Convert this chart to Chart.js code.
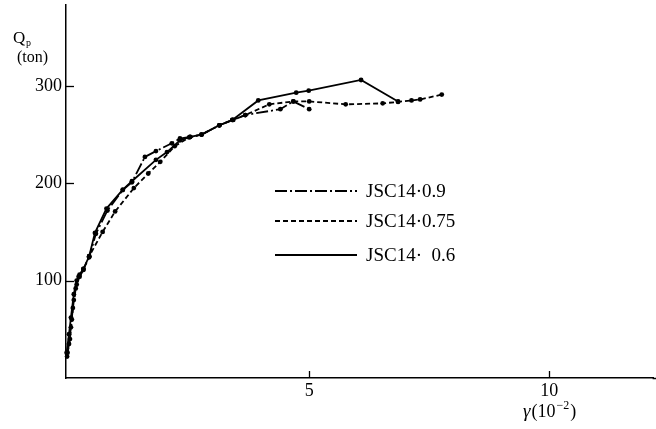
<!DOCTYPE html>
<html>
<head>
<meta charset="utf-8">
<script src="https://cdn.jsdelivr.net/npm/chart.js@4"></script>
<style>
html, body { margin: 0; padding: 0; background: #fff; }
#wrap { width: 656px; height: 429px; position: relative; }
</style>
</head>
<body>
<div id="wrap"><canvas id="chart"></canvas></div>
<script>
// values: shear strain (10^-2) vs. load Qp (ton)
var seriesNames = ['JSC14\u00b70.9', 'JSC14\u00b70.75', 'JSC14\u00b7  0.6'];

var gamma09 = [-0.04, 0.0, 0.04, 0.08, 0.14, 0.20, 0.30, 0.42, 0.56, 0.80, 1.12, 1.31, 1.58, 1.81, 2.14, 2.31, 2.52, 2.76, 3.13, 3.42, 3.67, 4.40, 4.67, 5.00];
var qp09 =    [22, 35, 52, 72, 92, 104, 112, 124, 148, 172, 193, 201, 227, 233, 241, 246, 247.5, 250, 259.5, 265, 270, 276, 284, 276];

var gamma075 = [-0.03, 0.02, 0.06, 0.10, 0.16, 0.22, 0.30, 0.42, 0.70, 0.96, 1.35, 1.65, 1.90, 2.20, 2.50, 2.76, 3.13, 3.40, 3.67, 4.17, 4.67, 5.00, 5.76, 6.53, 6.85, 7.13, 7.31, 7.76];
var qp075 =    [26, 40, 60, 80, 96, 104, 111, 125, 150, 171, 195, 210, 222, 238, 247, 250, 259.5, 265, 270, 281, 284, 284, 281, 282, 283.5, 285, 286, 291];

var gamma06 = [-0.05, 0.0, 0.04, 0.10, 0.16, 0.22, 0.30, 0.42, 0.54, 0.78, 1.12, 1.31, 1.81, 2.04, 2.31, 2.52, 2.76, 3.13, 3.40, 3.94, 4.73, 4.99, 6.08, 6.85];
var qp06 =    [26, 45, 62, 86, 100, 106, 112, 125, 149, 174, 193.5, 202, 224, 232, 244, 247.5, 250, 259.5, 265, 285, 293, 295, 306, 284];

var xTicks = [5, 10];
var yTicks = [100, 200, 300];

var dashes = [[12, 3, 2, 3], [5, 3], []];

function toPoints(xs, ys) {
    var pts = [];
    for (var i = 0; i < xs.length; i++) {
        pts.push({x: xs[i], y: ys[i]});
    }
    return pts;
}

function makeDataset(i, xs, ys) {
    return {
        label: seriesNames[i],
        data: toPoints(xs, ys),
        borderColor: '#000',
        backgroundColor: '#000',
        borderWidth: 1.8,
        borderDash: dashes[i],
        pointRadius: 2.4,
        pointHoverRadius: 2.4,
        pointBorderWidth: 0,
        tension: 0,
        clip: false
    };
}

var serif = "'Liberation Serif', 'DejaVu Serif', serif";

var decorPlugin = {
    id: 'decor',
    afterDraw: function (chart) {
        var ctx = chart.ctx;
        var xs = chart.scales.x, ys = chart.scales.y;
        var area = chart.chartArea;
        ctx.save();
        ctx.strokeStyle = '#000';
        ctx.fillStyle = '#000';
        ctx.setLineDash([]);
        // x axis runs on to the page edge
        ctx.lineWidth = 1.5;
        ctx.beginPath();
        ctx.moveTo(area.right - 1, area.bottom + 0.5);
        ctx.lineTo(chart.width, area.bottom + 0.5);
        ctx.stroke();

        // inward tick marks
        ctx.lineWidth = 1.3;
        yTicks.forEach(function (v) {
            var py = Math.round(ys.getPixelForValue(v)) + 0.5;
            ctx.beginPath();
            ctx.moveTo(area.left, py);
            ctx.lineTo(area.left + 8, py);
            ctx.stroke();
        });
        xTicks.forEach(function (v) {
            var px = Math.round(xs.getPixelForValue(v)) + 0.5;
            ctx.beginPath();
            ctx.moveTo(px, area.bottom);
            ctx.lineTo(px, area.bottom - 7);
            ctx.stroke();
        });

        // axis titles
        ctx.textBaseline = 'alphabetic';
        ctx.textAlign = 'left';
        ctx.font = '17px ' + serif;
        ctx.fillText('Q', 13, 43);
        ctx.font = '10px ' + serif;
        ctx.fillText('p', 26, 46);
        ctx.font = '16px ' + serif;
        ctx.fillText('(ton)', 17, 62);

        var tx = 523;
        ctx.font = 'italic 19px ' + serif;
        ctx.fillText('\u03b3', tx, 417);
        tx += ctx.measureText('\u03b3').width + 1;
        ctx.font = '18px ' + serif;
        ctx.fillText('(10', tx, 417);
        tx += ctx.measureText('(10').width + 1;
        ctx.font = '12px ' + serif;
        ctx.fillText('\u22122', tx, 409);
        tx += ctx.measureText('\u22122').width + 1;
        ctx.font = '18px ' + serif;
        ctx.fillText(')', tx, 417);

        // legend
        var rows = [191, 221, 255];
        ctx.font = '19px ' + serif;
        ctx.textBaseline = 'middle';
        for (var i = 0; i < rows.length; i++) {
            ctx.lineWidth = 1.8;
            ctx.setLineDash(dashes[i]);
            ctx.beginPath();
            ctx.moveTo(275, rows[i]);
            ctx.lineTo(357, rows[i]);
            ctx.stroke();
            ctx.setLineDash([]);
            ctx.fillText(seriesNames[i], 366, rows[i] + 1);
        }
        ctx.restore();
    }
};

new Chart(document.getElementById('chart'), {
    type: 'line',
    data: {
        datasets: [
            makeDataset(0, gamma09, qp09),
            makeDataset(1, gamma075, qp075),
            makeDataset(2, gamma06, qp06)
        ]
    },
    options: {
        responsive: true,
        maintainAspectRatio: false,
        animation: false,
        layout: {padding: {top: 5, right: 0, bottom: 0, left: 0}},
        plugins: {
            legend: {display: false},
            tooltip: {enabled: false}
        },
        scales: {
            x: {
                type: 'linear',
                min: -0.0625,
                max: 12.17,
                afterFit: function (scale) {
                    scale.height = 51;
                    scale.paddingLeft = 0;
                    scale.paddingRight = 0;
                },
                afterBuildTicks: function (scale) {
                    scale.ticks = xTicks.map(function (v) { return {value: v}; });
                },
                grid: {display: false, drawTicks: false},
                border: {display: true, color: '#000', width: 1.5},
                ticks: {
                    color: '#000',
                    padding: 2,
                    font: {family: serif, size: 18}
                }
            },
            y: {
                type: 'linear',
                min: 0,
                max: 383,
                afterFit: function (scale) {
                    scale.width = 66;
                    scale.paddingTop = 0;
                    scale.paddingBottom = 0;
                },
                afterBuildTicks: function (scale) {
                    scale.ticks = yTicks.map(function (v) { return {value: v}; });
                },
                grid: {display: false, drawTicks: false},
                border: {display: true, color: '#000', width: 1.5},
                ticks: {
                    color: '#000',
                    padding: 4,
                    font: {family: serif, size: 18}
                }
            }
        }
    },
    plugins: [decorPlugin]
});
</script>
</body>
</html>
